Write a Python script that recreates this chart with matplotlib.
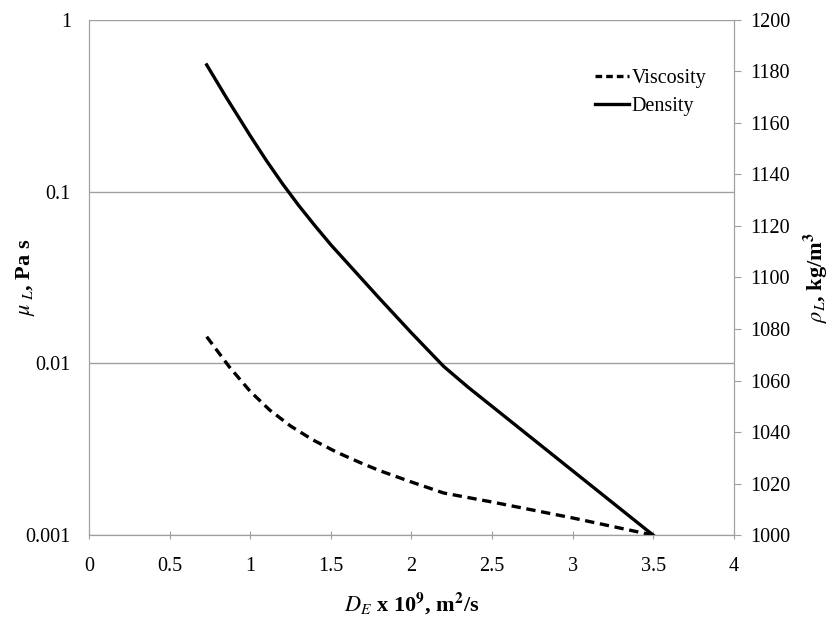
import matplotlib.pyplot as plt
from matplotlib.lines import Line2D

# diffusivity D_E x 1e9 (m2/s)
de_visc = [0.73, 0.87, 1.0, 1.12, 1.25, 1.39, 1.54, 1.68, 1.8, 2.0, 2.2, 2.5, 3.0, 3.5]
viscosity = [0.0143, 0.00955, 0.00687, 0.00536, 0.00432, 0.00358, 0.00303, 0.00265, 0.00238,
             0.00204, 0.00176, 0.00156, 0.00126, 0.001]

de_dens = [0.73, 0.85, 1.0, 1.1, 1.2, 1.3, 1.4, 1.5, 1.8, 2.0, 2.2, 2.35, 2.5, 3.0, 3.5]
density = [1182.5, 1170, 1155, 1145.4, 1136.4, 1128.0, 1120.2, 1112.7, 1092, 1078.5, 1065.5,
           1057.5, 1050, 1025, 1000]

plt.rcParams['font.family'] = ['Liberation Serif', 'DejaVu Serif']
plt.rcParams['mathtext.fontset'] = 'stix'

fig = plt.figure(figsize=(8.32, 6.18), dpi=100)
ax = fig.add_axes([0.107, 0.134, 0.775, 0.834])
ax2 = ax.twinx()

ax.plot(de_visc, viscosity, color='black', lw=2.4, ls=(0, (2.8, 1.7)))
ax.set_yscale('log')
ax.set_ylim(0.001, 1)
ax.set_xlim(0, 4)
ax.set_yticks([0.001, 0.01, 0.1, 1])
ax.set_yticklabels(['0.001', '0.01', '0.1', '1'])
ax.minorticks_off()
ax.set_xticks([0, 0.5, 1, 1.5, 2, 2.5, 3, 3.5, 4])
ax.set_xticklabels(['0', '0.5', '1', '1.5', '2', '2.5', '3', '3.5', '4'])
ax.grid(axis='y', color='#a0a0a0', lw=1)

ax2.plot(de_dens, density, color='black', lw=2.4)
ax2.set_ylim(1000, 1200)
ax2.set_yticks(range(1000, 1201, 20))

for a in (ax, ax2):
    for s in a.spines.values():
        s.set_color('#a0a0a0')
    a.spines['top'].set_visible(False)
ax.tick_params(axis='y', length=0, labelsize=14.5, pad=13)
ax.tick_params(axis='x', direction='inout', length=6, color='#a0a0a0', labelsize=14.5, pad=13)
ax2.tick_params(axis='y', direction='out', length=5, color='#a0a0a0', labelsize=14.5, pad=7)

ax.set_xlabel(r'$D_E$ x 10$^\mathbf{9}$, m$^\mathbf{2}$/s', fontsize=16, fontweight='bold')
ax.set_ylabel(r'$\mu_{\ L}$, Pa s', fontsize=16, fontweight='bold')
ax2.set_ylabel(r'$\rho_L$, kg/m$^\mathbf{3}$', fontsize=16, fontweight='bold')
ax.xaxis.set_label_coords(0.5, -0.108)
ax.yaxis.set_label_coords(-0.08, 0.5)
ax2.yaxis.set_label_coords(1.105, 0.5)

handles = [Line2D([], [], color='black', lw=2.4, ls=(0, (2.0, 1.2))),
           Line2D([], [], color='black', lw=2.4)]
ax2.legend(handles, ['Viscosity', 'Density'], loc='upper right', bbox_to_anchor=(0.985, 0.94),
           frameon=False, fontsize=14.5, handlelength=1.7, handletextpad=0.1, labelspacing=0.45)

fig.savefig('out.png', dpi=100)
